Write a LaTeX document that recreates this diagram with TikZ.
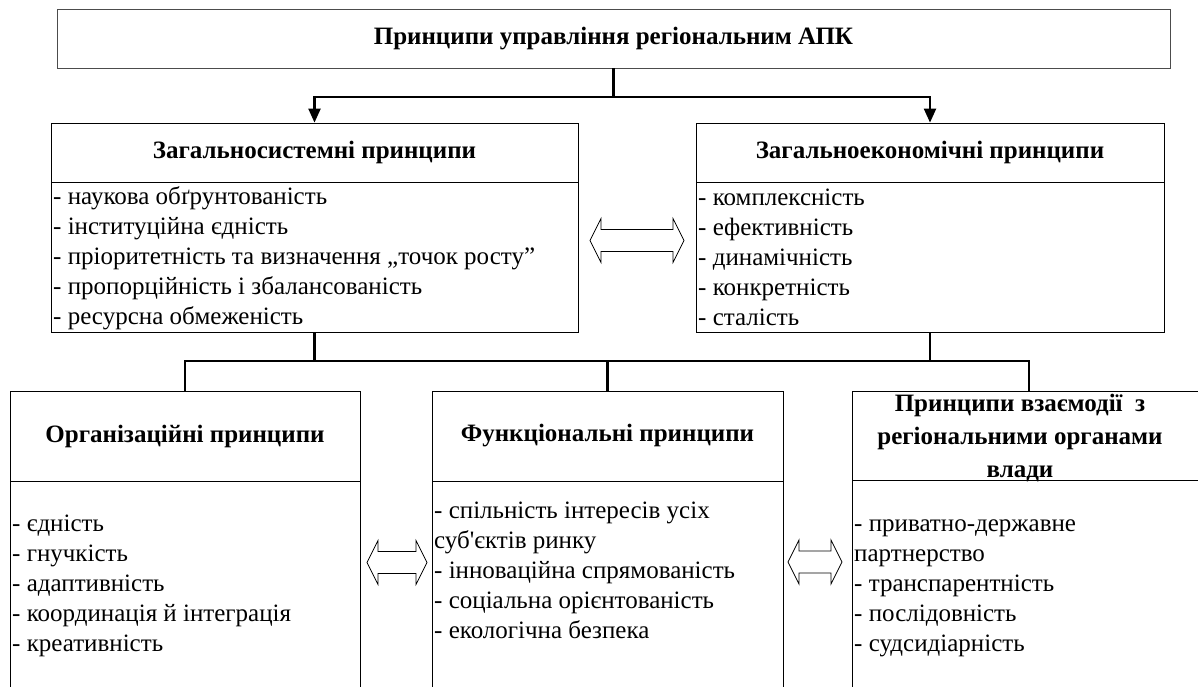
\documentclass[tikz,border=0pt]{standalone}
\usepackage{fontspec}
\setmainfont{Liberation Serif}
\usetikzlibrary{arrows.meta}
\tikzset{
  box/.style={draw=black, line width=0.8pt, rectangle, inner sep=0pt, align=center},
  hdr/.style={box, font=\fontsize{25}{33}\selectfont\bfseries},
  txt/.style={inner sep=0pt, align=left, anchor=north west, font=\fontsize{25}{30}\selectfont},
  conn/.style={line width=2.2pt, black},
  arr/.style={conn, -{Triangle[width=12pt,length=14pt]}},
  hollow/.style={draw=black, line width=0.8pt, fill=white, line join=miter},
}
\newcommand{\hollowdbl}[3]{%
  \draw[hollow] (#1,#3) -- ({#1+11},{#3-22}) -- ({#1+11},{#3-11}) -- ({#2-11},{#3-11})
    -- ({#2-11},{#3-22}) -- (#2,#3) -- ({#2-11},{#3+22}) -- ({#2-11},{#3+11})
    -- ({#1+11},{#3+11}) -- ({#1+11},{#3+22}) -- cycle;}
\begin{document}
\begin{tikzpicture}[x=1pt,y=-1pt]
\useasboundingbox (0,0) rectangle (1198,686);
\clip (0,0) rectangle (1198,686);

% top box
\node[hdr, draw=black!70, minimum width=1113pt, minimum height=59pt] (title) at (613.5,38.5) {Принципи управління регіональним АПК};

% second level
\node[hdr, minimum width=527pt, minimum height=59pt] (gs) at (314.5,152.5) {Загальносистемні принципи};
\node[box, minimum width=527pt, minimum height=150pt] (gsb) at (314.5,257) {};
\node[txt] (gst) at (53,183) {\strut- наукова обґрунтованість\\- інституційна єдність\\- пріоритетність та визначення „точок росту”\\- пропорційність і збалансованість\\- ресурсна обмеженість};

\node[hdr, minimum width=468pt, minimum height=59pt] (ge) at (930,152.5) {Загальноекономічні принципи};
\node[box, minimum width=468pt, minimum height=150pt] (geb) at (930,257) {};
\node[txt] (get) at (698,184) {\strut- комплексність\\- ефективність\\- динамічність\\- конкретність\\- сталість};

% third level
\node[hdr, minimum width=350pt, minimum height=90pt] (org) at (185,436) {Організаційні принципи};
\node[box, minimum width=350pt, minimum height=219pt] (orgb) at (185,590.5) {};
\node[txt] (orgt) at (12,510) {\strut- єдність\\- гнучкість\\- адаптивність\\- координація й інтеграція\\- креативність};

\node[hdr, minimum width=351pt, minimum height=90pt] (fun) at (607.5,436) {Функціональні принципи};
\node[box, minimum width=351pt, minimum height=219pt] (funb) at (607.5,590.5) {};
\node[txt] (funt) at (434,497) {\strut- спільність інтересів усіх\\суб\textquotesingle єктів ринку\\- інноваційна спрямованість\\- соціальна орієнтованість\\- екологічна безпека};

\node[box, minimum width=354pt, minimum height=89pt] (int) at (1029,435.5) {};
\node[font=\fontsize{25}{33}\selectfont\bfseries, align=center, inner sep=0pt] (intt) at (1020,438) {Принципи взаємодії \ з\\регіональними органами\\влади};
\node[box, minimum width=354pt, minimum height=220pt] (intb) at (1029,590) {};
\node[txt] (intbt) at (854,510) {\strut- приватно-державне\\партнерство\\- транспарентність\\- послідовність\\- судсидіарність};

% connectors top
\coordinate (sp) at (613.5,97);
\draw[conn] (title.south) -- (sp);
\draw[arr] (sp) -| (gs.north);
\draw[arr] (sp) -| (ge.north);

% connectors bottom
\coordinate (bus) at (0,361);
\draw[conn] (gsb.south) -- (gsb.south |- bus);
\draw[conn] (geb.south) -- (geb.south |- bus);
\draw[conn, line join=miter] (org.north) -- (org.north |- bus) -- (int.north |- bus) -- (int.north);
\draw[conn] (fun.north |- bus) -- (fun.north);

% double arrows
\hollowdbl{590}{684}{240.5}
\hollowdbl{367}{427}{562.5}
\hollowdbl{788}{842}{562}
\end{tikzpicture}
\end{document}
